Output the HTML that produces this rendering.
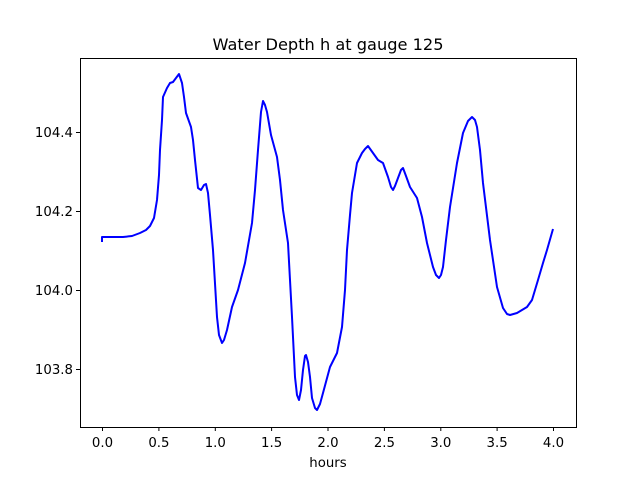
<!DOCTYPE html>
<html><head><style>body{margin:0;background:#fff}svg{display:block}</style></head><body>
<svg width="640" height="480" xmlns="http://www.w3.org/2000/svg" font-family="DejaVu Sans, Liberation Sans, sans-serif">
<rect width="640" height="480" fill="#fff"/>
<text x="328" y="50" font-size="16.2" text-anchor="middle">Water Depth h at gauge 125</text>
<polyline fill="none" stroke="#0000ff" stroke-width="2" stroke-linejoin="round" points="102,242 102,237 110,237 123,237 132,236 140,233 146,230 150,226 154,218 157,200 159,175 160,150 162,120 163,97 167,88 170,83 173,82 176,78 179,74 182,83 184,97 186,113 191,127 193,140 195,160 198,188 201,190 204,185 206,184 208,193 210,215 213,250 217,317 219,335 222,343 224,340 227,330 232,307 238,290 245,263 252,223 255,190 258,150 261,112 263,101 265,105 267,112 271,135 277,157 280,180 283,210 288,243 290,280 292,317 295,377 297,395 299,400 301,390 303,370 305,356 306,355 308,362 310,377 312,398 315,408 317,410 320,404 323,393 330,367 337,353 342,327 345,290 347,250 350,215 352,193 357,163 362,153 365,149 368,146 373,153 378,160 383,163 388,177 391,187 393,190 395,186 398,178 401,170 403,168 406,176 410,187 417,198 422,217 427,243 433,267 436,275 439,278 441,275 443,267 446,240 450,207 457,163 463,133 468,121 472,117 475,120 477,127 480,150 483,183 490,240 497,287 503,308 507,314 510,315 517,313 522,310 527,307 532,300 538,280 543,263 547,250 553,229"/>
<rect x="80.5" y="58.5" width="496" height="369" fill="none" stroke="#000" stroke-width="1"/>
<g stroke="#000" stroke-width="1">
<line x1="102.5" y1="427" x2="102.5" y2="431"/><line x1="158.9" y1="427" x2="158.9" y2="431"/><line x1="215.3" y1="427" x2="215.3" y2="431"/><line x1="271.6" y1="427" x2="271.6" y2="431"/><line x1="328" y1="427" x2="328" y2="431"/><line x1="384.4" y1="427" x2="384.4" y2="431"/><line x1="440.8" y1="427" x2="440.8" y2="431"/><line x1="497.1" y1="427" x2="497.1" y2="431"/><line x1="553.5" y1="427" x2="553.5" y2="431"/>
<line x1="76" y1="369.5" x2="80" y2="369.5"/><line x1="76" y1="290.5" x2="80" y2="290.5"/><line x1="76" y1="211.5" x2="80" y2="211.5"/><line x1="76" y1="132.5" x2="80" y2="132.5"/>
</g>
<g font-size="13.3" text-anchor="middle">
<text x="102.5" y="447">0.0</text><text x="158.9" y="447">0.5</text><text x="215.3" y="447">1.0</text><text x="271.6" y="447">1.5</text><text x="328" y="447">2.0</text><text x="384.4" y="447">2.5</text><text x="440.8" y="447">3.0</text><text x="497.1" y="447">3.5</text><text x="553.5" y="447">4.0</text>
<text x="328" y="467">hours</text>
</g>
<g font-size="13.3" text-anchor="end">
<text x="73" y="374">103.8</text><text x="73" y="295">104.0</text><text x="73" y="216">104.2</text><text x="73" y="137">104.4</text>
</g>
</svg>
</body></html>
